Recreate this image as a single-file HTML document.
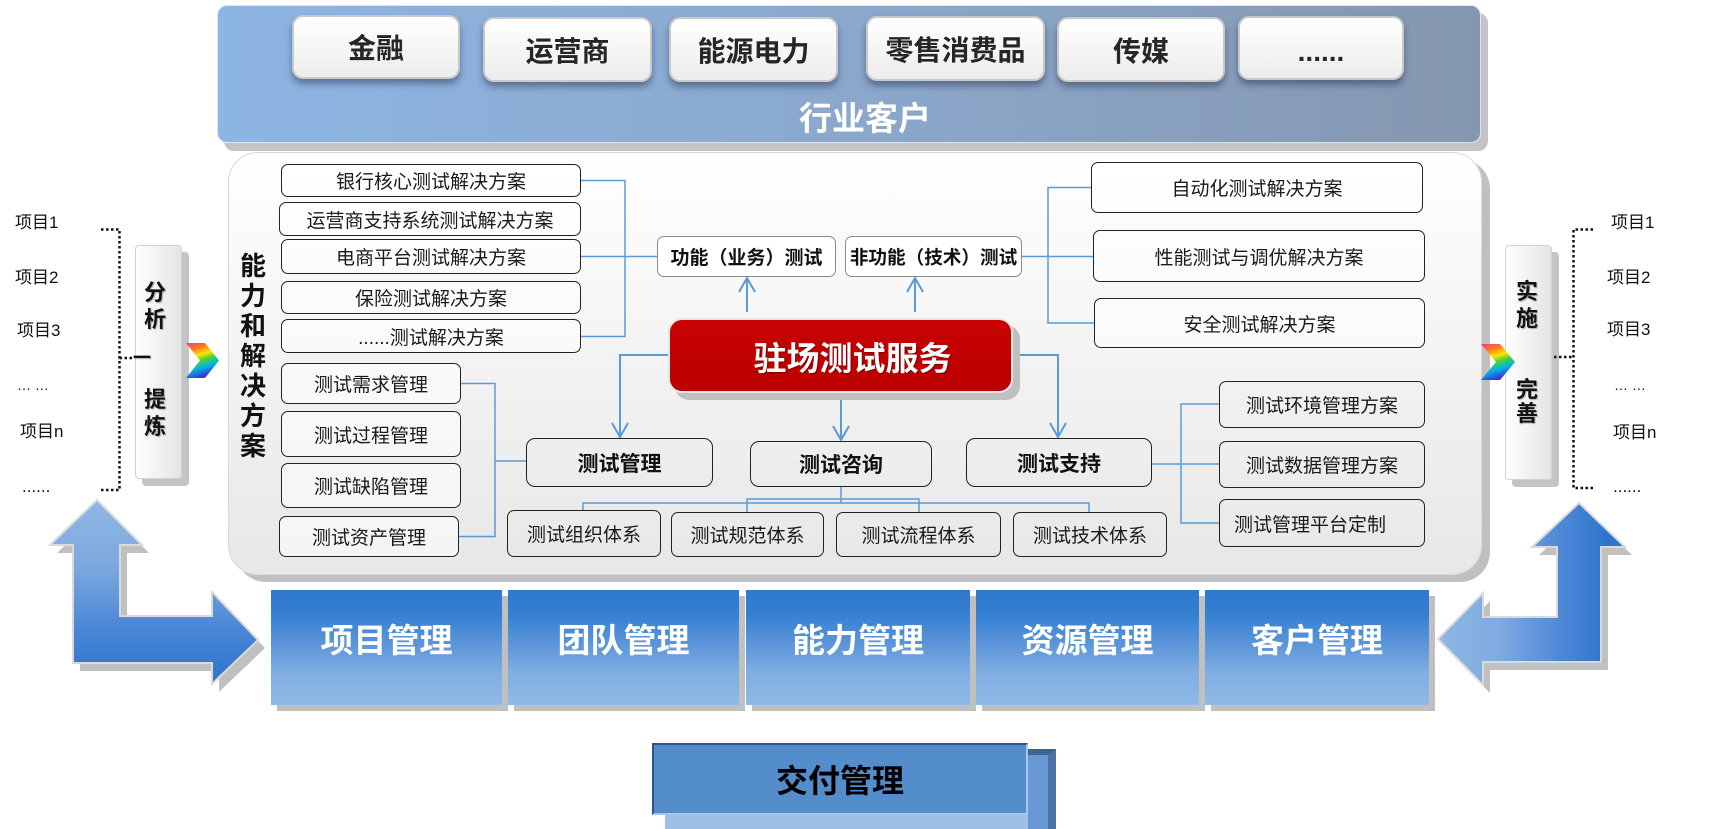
<!DOCTYPE html>
<html>
<head>
<meta charset="utf-8">
<style>
html,body{margin:0;padding:0;background:#fff;}
#root{position:relative;width:1711px;height:829px;overflow:hidden;background:#fff;font-family:"Liberation Sans","Noto Sans CJK SC",sans-serif;}
.a{position:absolute;}
.bx{position:absolute;box-sizing:border-box;display:flex;align-items:center;justify-content:center;white-space:nowrap;}
.ind{background:linear-gradient(#ffffff,#ececec);border:2px solid #c9c9c9;border-radius:11px;box-shadow:0 5px 7px rgba(30,40,70,0.45);font-size:28px;font-weight:bold;color:#262626;}
.sol{background:rgba(255,255,255,0.55);border:1.3px solid #222;border-radius:7px;font-size:19px;color:#1a1a1a;}
.mid{border:1.4px solid #222;border-radius:9px;font-size:21px;font-weight:bold;color:#111;}
.fn{background:#fff;border:1.2px solid #8a8a8a;border-radius:7px;font-size:19px;font-weight:bold;color:#111;}
.mg{background:linear-gradient(to bottom,#2e78cf 0%,#3580d3 22%,#5d96da 48%,#80aee2 72%,#8fb9e7 100%);box-shadow:6px 6px 0 #c0c0c0;color:#fff;font-size:33px;font-weight:bold;align-items:flex-start;padding-top:24px;}
.ch{position:absolute;width:30px;height:30px;line-height:30px;text-align:center;font-size:22px;font-weight:bold;color:#111;text-shadow:1px 1px 1px rgba(0,0,0,0.3);}
.it{position:absolute;font-size:17px;line-height:20px;height:20px;color:#111;white-space:nowrap;}
.side{position:absolute;box-sizing:border-box;background:linear-gradient(to right,#ffffff,#e4e4e4);border:1px solid #d2d2d2;border-radius:4px;box-shadow:7px 7px 0 #c4c4c4;}
</style>
</head>
<body>
<div id="root">

<!-- top banner -->
<div class="a" style="left:217px;top:5px;width:1264px;height:138px;border-radius:10px;background:linear-gradient(to right,#8db5e3,#8ba8cc 50%,#8597b0);box-shadow:7px 8px 0 #c4c4c4;border:1px solid #dde5ee;box-sizing:border-box;"></div>
<div class="bx" style="left:765px;top:96px;width:200px;height:40px;color:#fff;font-size:33px;font-weight:bold;">行业客户</div>

<div class="bx ind" style="left:292px;top:15px;width:168px;height:64px;">金融</div>
<div class="bx ind" style="left:483px;top:17px;width:169px;height:65px;">运营商</div>
<div class="bx ind" style="left:669px;top:17px;width:169px;height:65px;">能源电力</div>
<div class="bx ind" style="left:866px;top:16px;width:179px;height:65px;">零售消费品</div>
<div class="bx ind" style="left:1057px;top:17px;width:168px;height:65px;">传媒</div>
<div class="bx ind" style="left:1238px;top:16px;width:166px;height:64px;padding-top:8px;">......</div>

<!-- main panel -->
<div class="a" style="left:228px;top:152px;width:1254px;height:423px;border-radius:30px;background:linear-gradient(to bottom,#ffffff 0%,#f4f4f4 45%,#e7e7e7 100%);box-shadow:8px 7px 0 #c0c0c0;border:1px solid #d9d9d9;box-sizing:border-box;"></div>

<!-- side boxes -->
<div class="side" style="left:135px;top:245px;width:47px;height:234px;"></div>
<div class="side" style="left:1505px;top:245px;width:47px;height:235px;"></div>

<!-- SVG layer -->
<svg class="a" style="left:0;top:0;" width="1711" height="829" viewBox="0 0 1711 829">
<defs>
<linearGradient id="gL" x1="0" y1="500" x2="0" y2="684" gradientUnits="userSpaceOnUse">
<stop offset="0" stop-color="#8fb7e4"/><stop offset="0.35" stop-color="#7ea9df"/><stop offset="0.7" stop-color="#4a86d5"/><stop offset="1" stop-color="#2c74cc"/>
</linearGradient>
<linearGradient id="gR" x1="1438" y1="0" x2="1610" y2="0" gradientUnits="userSpaceOnUse">
<stop offset="0" stop-color="#8fb7e4"/><stop offset="0.35" stop-color="#80abe0"/><stop offset="0.7" stop-color="#4f89d6"/><stop offset="1" stop-color="#2c74cc"/>
</linearGradient>
<linearGradient id="rb" x1="0" y1="0" x2="0.3" y2="1">
<stop offset="0" stop-color="#ff2f92"/><stop offset="0.22" stop-color="#ff7a1a"/><stop offset="0.42" stop-color="#ffe600"/><stop offset="0.58" stop-color="#46d33a"/><stop offset="0.78" stop-color="#00b4e6"/><stop offset="1" stop-color="#3a3ad8"/>
</linearGradient>
</defs>

<!-- big arrows -->
<polygon points="97,500 142,545 120,545 120,616 212,616 212,592 258,640 212,684 212,663 73,663 73,545 50,545" fill="#c0c0c0" transform="translate(7,8)"/>
<polygon points="97,500 142,545 120,545 120,616 212,616 212,592 258,640 212,684 212,663 73,663 73,545 50,545" fill="url(#gL)" stroke="#dadada" stroke-width="2"/>
<polygon points="1579,503 1625,547 1601,547 1601,662 1483,662 1483,685 1438,639 1483,593 1483,617 1557,617 1557,547 1532,547" fill="#c0c0c0" transform="translate(7,8)"/>
<polygon points="1579,503 1625,547 1601,547 1601,662 1483,662 1483,685 1438,639 1483,593 1483,617 1557,617 1557,547 1532,547" fill="url(#gR)" stroke="#dadada" stroke-width="2"/>

<!-- chevrons -->
<polygon points="186,343 205,343 219,360.5 205,378 186,378 200,360.5" fill="url(#rb)"/>
<polygon points="1481,344 1500,344 1515,362 1500,380 1481,380 1496,362" fill="url(#rb)"/>

<!-- dotted brackets -->
<g stroke="#111" stroke-width="2.5" stroke-dasharray="2.5 2.5" fill="none">
<polyline points="101,229.5 119.5,229.5 119.5,490 101,490"/>
<line x1="119.5" y1="358" x2="133" y2="358"/>
<polyline points="1593,229.5 1573.5,229.5 1573.5,488 1593,488"/>
<line x1="1554" y1="357" x2="1573" y2="357"/>
</g>

<!-- connectors thin -->
<g stroke="#5b9bd5" stroke-width="1.5" fill="none">
<polyline points="581,180.5 625,180.5 625,336.5 581,336.5"/>
<line x1="581" y1="256.5" x2="657" y2="256.5"/>
<polyline points="1091,187.5 1048,187.5 1048,323 1094,323"/>
<line x1="1022" y1="256.5" x2="1093" y2="256.5"/>
<polyline points="461,383.5 495,383.5 495,536.5 459,536.5"/>
<line x1="495" y1="461" x2="526" y2="461"/>
<polyline points="1219,404 1181,404 1181,523 1219,523"/>
<line x1="1152" y1="464" x2="1219" y2="464"/>
<line x1="841" y1="487" x2="841" y2="503"/>
<polyline points="747,512 747,499 919,499 919,512"/>
<polyline points="583,510 583,503 1089,503 1089,512"/>
</g>
<!-- connectors thick -->
<g stroke="#5b9bd5" stroke-width="2" fill="none">
<line x1="747" y1="312" x2="747" y2="278"/>
<polyline points="739,292 747,278 755,292"/>
<line x1="915" y1="312" x2="915" y2="278"/>
<polyline points="907,292 915,278 923,292"/>
<polyline points="668,355 620,355 620,437"/>
<polyline points="612,423 620,437 628,423"/>
<line x1="841" y1="393" x2="841" y2="440"/>
<polyline points="833,426 841,440 849,426"/>
<polyline points="1013,355 1058,355 1058,437"/>
<polyline points="1050,423 1058,437 1066,423"/>
</g>
</svg>

<!-- side box texts -->
<div class="ch" style="left:140px;top:278px;">分</div>
<div class="ch" style="left:140px;top:305px;">析</div>
<div class="ch" style="left:127px;top:343px;font-size:18px;">一</div>
<div class="ch" style="left:140px;top:385px;">提</div>
<div class="ch" style="left:140px;top:412px;">炼</div>

<div class="ch" style="left:1512px;top:277px;">实</div>
<div class="ch" style="left:1512px;top:304px;">施</div>
<div class="ch" style="left:1512px;top:375px;">完</div>
<div class="ch" style="left:1512px;top:399px;">善</div>

<!-- vertical label -->
<div class="a" style="left:238px;top:251px;width:30px;font-size:26px;line-height:30px;font-weight:bold;color:#111;text-align:center;">能<br>力<br>和<br>解<br>决<br>方<br>案</div>

<!-- left items -->
<div class="it" style="left:15px;top:213px;">项目1</div>
<div class="it" style="left:15px;top:268px;">项目2</div>
<div class="it" style="left:17px;top:321px;">项目3</div>
<div class="it" style="left:17px;top:375px;font-size:14px;">… …</div>
<div class="it" style="left:20px;top:422px;">项目n</div>
<div class="it" style="left:22px;top:477px;">......</div>

<!-- right items -->
<div class="it" style="left:1611px;top:213px;">项目1</div>
<div class="it" style="left:1607px;top:268px;">项目2</div>
<div class="it" style="left:1607px;top:320px;">项目3</div>
<div class="it" style="left:1614px;top:375px;font-size:14px;">… …</div>
<div class="it" style="left:1613px;top:423px;">项目n</div>
<div class="it" style="left:1613px;top:477px;">......</div>

<!-- left solution boxes -->
<div class="bx sol" style="left:281px;top:164px;width:300px;height:33px;">银行核心测试解决方案</div>
<div class="bx sol" style="left:279px;top:202px;width:302px;height:34px;">运营商支持系统测试解决方案</div>
<div class="bx sol" style="left:281px;top:239px;width:300px;height:35px;">电商平台测试解决方案</div>
<div class="bx sol" style="left:281px;top:281px;width:300px;height:33px;">保险测试解决方案</div>
<div class="bx sol" style="left:281px;top:319px;width:300px;height:34px;">......测试解决方案</div>

<!-- left management -->
<div class="bx sol" style="left:281px;top:363px;width:180px;height:41px;">测试需求管理</div>
<div class="bx sol" style="left:281px;top:411px;width:180px;height:46px;">测试过程管理</div>
<div class="bx sol" style="left:281px;top:463px;width:180px;height:45px;">测试缺陷管理</div>
<div class="bx sol" style="left:279px;top:516px;width:180px;height:41px;">测试资产管理</div>

<!-- function boxes -->
<div class="bx fn" style="left:657px;top:236px;width:179px;height:41px;">功能（业务）测试</div>
<div class="bx fn" style="left:845px;top:236px;width:177px;height:41px;font-size:18.6px;">非功能（技术）测试</div>

<!-- right solution -->
<div class="bx sol" style="left:1091px;top:162px;width:332px;height:51px;">自动化测试解决方案</div>
<div class="bx sol" style="left:1093px;top:230px;width:332px;height:52px;">性能测试与调优解决方案</div>
<div class="bx sol" style="left:1094px;top:298px;width:331px;height:50px;">安全测试解决方案</div>

<!-- core service -->
<div class="bx" style="left:668px;top:318px;width:345px;height:75px;background:linear-gradient(#c80202,#bb0000);border:2px solid #e6e6e6;border-radius:14px;box-shadow:7px 7px 0 #c0c0c0;color:#fff;font-size:33px;font-weight:bold;padding-left:24px;text-shadow:1px 1px 1px rgba(0,0,0,0.35);">驻场测试服务</div>

<!-- mid boxes -->
<div class="bx mid" style="left:526px;top:438px;width:187px;height:49px;">测试管理</div>
<div class="bx mid" style="left:750px;top:441px;width:182px;height:46px;">测试咨询</div>
<div class="bx mid" style="left:966px;top:438px;width:186px;height:49px;">测试支持</div>

<!-- systems -->
<div class="bx sol" style="left:507px;top:510px;width:154px;height:47px;background:transparent;">测试组织体系</div>
<div class="bx sol" style="left:671px;top:512px;width:153px;height:45px;background:transparent;">测试规范体系</div>
<div class="bx sol" style="left:836px;top:512px;width:165px;height:45px;background:transparent;">测试流程体系</div>
<div class="bx sol" style="left:1013px;top:512px;width:154px;height:45px;background:transparent;">测试技术体系</div>

<!-- right management -->
<div class="bx sol" style="left:1219px;top:381px;width:206px;height:47px;background:transparent;">测试环境管理方案</div>
<div class="bx sol" style="left:1219px;top:441px;width:206px;height:47px;background:transparent;">测试数据管理方案</div>
<div class="bx sol" style="left:1219px;top:499px;width:206px;height:48px;background:transparent;justify-content:flex-start;padding-left:14px;">测试管理平台定制</div>

<!-- bottom management band -->
<div class="bx mg" style="left:271px;top:590px;width:231px;height:115px;">项目管理</div>
<div class="bx mg" style="left:508px;top:590px;width:231px;height:115px;">团队管理</div>
<div class="bx mg" style="left:746px;top:590px;width:224px;height:115px;">能力管理</div>
<div class="bx mg" style="left:976px;top:590px;width:223px;height:115px;">资源管理</div>
<div class="bx mg" style="left:1205px;top:590px;width:224px;height:115px;">客户管理</div>

<!-- delivery -->
<div class="a" style="left:665px;top:749px;width:391px;height:80px;box-sizing:border-box;background:#a0bfe8;border-top:6px solid #3e6291;border-right:8px solid #4b73a6;"></div>
<div class="a" style="left:1028px;top:755px;width:20px;height:74px;background:#6898d4;"></div>
<div class="bx" style="left:652px;top:743px;width:376px;height:72px;background:#548dcc;border-top:2px solid #2f5486;border-left:2px solid #2f5486;border-right:2px solid #a8c6ec;border-bottom:2px solid #a8c6ec;color:#000;font-size:32px;font-weight:bold;">交付管理</div>

</div>
</body>
</html>
